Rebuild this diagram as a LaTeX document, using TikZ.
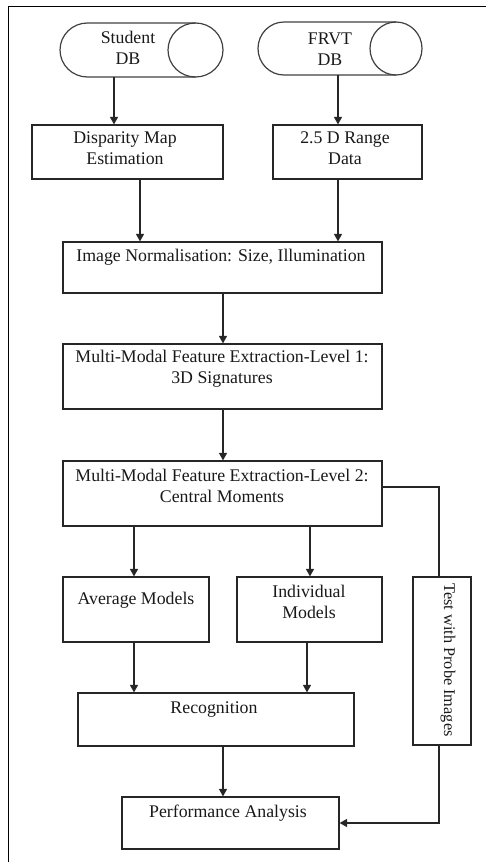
\documentclass[tikz,border=0pt]{standalone}
\usepackage{fontspec}
\setmainfont{Liberation Serif}
\usetikzlibrary{arrows.meta}
\tikzset{
  box/.style={draw=black!85, line width=1.2pt, rectangle, inner sep=0pt},
  cylline/.style={draw=black!75, line width=1.2pt},
  txt/.style={inner sep=0pt, align=center, font=\fontsize{17.8}{21}\selectfont, text=black!90},
  arr/.style={draw=black!85, line width=1.2pt, -{Triangle[length=7.5pt,width=8pt]}},
  ln/.style={draw=black!85, line width=1.2pt}
}
\begin{document}
\begin{tikzpicture}[x=1pt,y=-1pt]
\useasboundingbox (0,0) rectangle (486,862);
\draw[line width=1.8pt] (486,6.5) -- (8.5,6.5) -- (8.5,862);
% databases (horizontal cylinders)
\draw[cylline] (195.5,23) -- (87.5,23) arc[start angle=90, end angle=270, x radius=27.5pt, y radius=27pt] -- (195.5,77);
\draw[cylline] (195.5,50) ellipse [x radius=27.5pt, y radius=27pt];
\coordinate (sdb) at (114,77);
\node[txt] (sdbt) at (128,47.5) {Student\\DB};
\draw[cylline] (396,22) -- (284,22) arc[start angle=90, end angle=270, x radius=26pt, y radius=26.5pt] -- (396,75);
\draw[cylline] (396,48.5) ellipse [x radius=26pt, y radius=26.5pt];
\coordinate (fdb) at (338,75);
\node[txt] (fdbt) at (330,49) {FRVT\\DB};
% boxes
\node[box, minimum width=191pt, minimum height=54pt] (dmap) at (127.5,152) {};
\node[txt] (dmapt) at (125,148.5) {Disparity Map\\Estimation};
\node[box, minimum width=149pt, minimum height=54pt] (range) at (347.5,152) {};
\node[txt] (ranget) at (345,148.5) {2.5 D Range\\Data};
\node[box, minimum width=319pt, minimum height=51pt] (norm) at (222.5,267.5) {};
\node[txt] (normt) at (221,257) {Image Normalisation: Size, Illumination};
\node[box, minimum width=319pt, minimum height=65pt] (lone) at (222.5,376.5) {};
\node[txt] (lonet) at (222,368.5) {Multi-Modal Feature Extraction-Level 1:\\3D Signatures};
\node[box, minimum width=319pt, minimum height=65pt] (ltwo) at (222.5,493.5) {};
\node[txt] (ltwot) at (222,485.5) {Multi-Modal Feature Extraction-Level 2:\\Central Moments};
\node[box, minimum width=146pt, minimum height=65pt] (avg) at (136,609.5) {};
\node[txt] (avgt) at (136,600) {Average Models};
\node[box, minimum width=145pt, minimum height=65pt] (ind) at (309.5,609.5) {};
\node[txt] (indt) at (309,601.5) {Individual\\Models};
\node[box, minimum width=58pt, minimum height=168pt] (test) at (442,661) {};
\node[txt, rotate=-90, font=\fontsize{16.3}{19}\selectfont] (testt) at (448,660) {Test with Probe Images};
\node[box, minimum width=276pt, minimum height=53pt] (rec) at (216,719.5) {};
\node[txt] (rect) at (214,710) {Recognition};
\node[box, minimum width=217pt, minimum height=52pt] (perf) at (230.5,823) {};
\node[txt] (perft) at (228,813) {Performance Analysis};
% connectors
\draw[arr] (sdb) -- ([xshift=-13.5pt]dmap.north);
\draw[arr] (fdb) -- ([xshift=-9.5pt]range.north);
\draw[arr] ([xshift=12.5pt]dmap.south) -- ([xshift=-82.5pt]norm.north);
\draw[arr] ([xshift=-9.5pt]range.south) -- ([xshift=115.5pt]norm.north);
\draw[arr] ([xshift=0.5pt]norm.south) -- ([xshift=0.5pt]lone.north);
\draw[arr] ([xshift=0.5pt]lone.south) -- ([xshift=0.5pt]ltwo.north);
\draw[arr] ([xshift=-88.5pt]ltwo.south) -- ([xshift=-2pt]avg.north);
\draw[arr] ([xshift=87.5pt]ltwo.south) -- ([xshift=0.5pt]ind.north);
\draw[ln] ([yshift=6.5pt]ltwo.east) -| ([xshift=-3pt]test.north);
\draw[arr] ([xshift=-2pt]avg.south) -- ([xshift=-82pt]rec.north);
\draw[arr] ([xshift=-2.5pt]ind.south) -- ([xshift=91pt]rec.north);
\draw[arr] ([xshift=7pt]rec.south) -- ([xshift=-7.5pt]perf.north);
\draw[arr] ([xshift=-3pt]test.south) |- (perf.east);
\end{tikzpicture}
\end{document}
